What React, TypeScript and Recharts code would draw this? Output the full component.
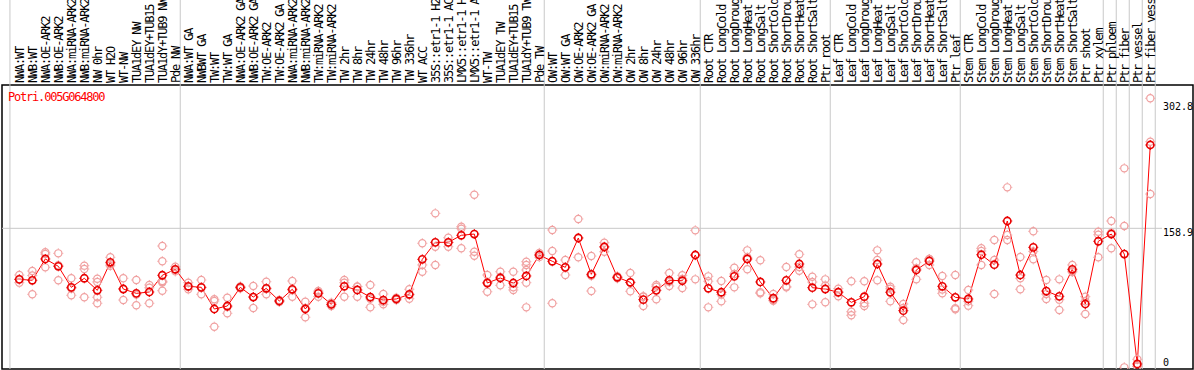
import { ComposedChart, Line, Scatter, XAxis, YAxis, ReferenceLine, ReferenceArea } from "recharts"

const geneId = "Potri.005G064800"

const labels = [
  "NWA:WT", "NWB:WT", "NWA:OE-ARK2", "NWB:OE-ARK2", "NWA:miRNA-ARK2", "NWB:miRNA-ARK2", "NW 0hr", "WT H2O", "WT-NW",
  "TUA1dEY NW", "TUA1dEY+TUB15 NW", "TUA1dY+TUB9 NW", "Pde NW",
  "NWA:WT GA", "NWBWT GA", "TW:WT", "TW:WT GA", "NWA:OE-ARK2 GA", "NWB:OE-ARK2 GA", "TW:OE-ARK2", "TW:OE-ARK2 GA",
  "NWA:miRNA-ARK2 GA", "NWB:miRNA-ARK2 GA", "TW:miRNA-ARK2", "TW:miRNA-ARK2 GA", "TW 2hr", "TW 8hr", "TW 24hr",
  "TW 48hr", "TW 96hr", "TW 336hr", "WT ACC", "35S::etr1-1 H2O", "35S::etr1-1 ACC", "LMX5::etr1-1 H2O",
  "LMX5::etr1-1 ACC", "WT-TW", "TUA1dEY TW", "TUA1dEY+TUB15 TW", "TUA1dY+TUB9 TW", "Pde TW",
  "OW:WT", "OW:WT GA", "OW:OE-ARK2", "OW:OE-ARK2 GA", "OW:miRNA-ARK2", "OW:miRNA-ARK2 GA", "OW 2hr", "OW 8hr",
  "OW 24hr", "OW 48hr", "OW 96hr", "OW 336hr",
  "Root CTR", "Root LongCold", "Root LongDrought", "Root LongHeat", "Root LongSalt", "Root ShortCold",
  "Root ShortDrought", "Root ShortHeat", "Root ShortSalt", "Ptr root",
  "Leaf CTR", "Leaf LongCold", "Leaf LongDrought", "Leaf LongHeat", "Leaf LongSalt", "Leaf ShortCold",
  "Leaf ShortDrought", "Leaf ShortHeat", "Leaf ShortSalt", "Ptr leaf",
  "Stem CTR", "Stem LongCold", "Stem LongDrought", "Stem LongHeat", "Stem LongSalt", "Stem ShortCold",
  "Stem ShortDrought", "Stem ShortHeat", "Stem ShortSalt", "Ptr shoot", "Ptr xylem",
  "Ptr phloem", "Ptr fiber", "Ptr vessel", "Ptr fiber vessel",
]

// mean expression per sample
const means = [
  101.0, 99.9, 124.1, 115.8, 91.9, 102.2, 88.5, 120.3, 90.0, 85.1, 86.6, 105.6, 112.4,
  93.1, 91.9, 67.3, 70.7, 91.9, 80.9, 90.8, 76.4, 89.7, 67.3, 85.1, 72.6, 93.1, 88.9, 80.9, 77.5, 78.7, 84.0,
  123.7, 143.0, 143.0, 151.0, 152.4, 96.8, 102.5, 96.8, 104.8, 128.6,
  121.5, 114.6, 147.9, 106.7, 137.7, 103.3, 97.6, 77.9, 88.5, 99.9, 99.4, 128.6,
  90.8, 86.3, 104.4, 124.1, 98.0, 79.5, 99.9, 118.4, 91.5, 90.0,
  86.3, 74.9, 81.3, 118.4, 86.3, 65.4, 111.6, 121.8, 93.1, 80.6,
  78.7, 128.9, 117.6, 167.2, 105.9, 137.3, 87.7, 81.7, 112.4, 73.0, 144.2,
  152.4, 129.7, 4.9, 253.5,
]

// individual replicates per sample
const replicates = [
  [105.9, 101.0, 97.2], [110.4, 105.3, 84.0], [131.7, 129.7, 114.6], [130.5, 117.0, 99.9], [102.2, 90.6, 82.9],
  [116.5, 112.7, 80.6], [101.7, 98.0, 80.6, 73.8], [126.0, 118.5, 116.4], [102.2, 90.3, 77.5], [100.2, 83.6, 71.5],
  [94.6, 91.4, 73.8], [138.8, 121.5, 99.0, 98.3, 97.5, 88.1], [115.3, 112.0, 110.0],
  [97.2, 92.4, 89.7], [100.2, 91.5, 84.0], [78.3, 76.4, 47.2], [80.1, 69.6, 62.4], [93.0, 92.0, 90.7],
  [93.4, 80.9, 68.4], [98.3, 90.1, 84.0], [77.5, 76.4, 75.3], [99.1, 88.7, 81.3], [75.6, 68.4, 57.9],
  [87.7, 86.3, 81.3], [74.5, 72.6, 70.7], [100.2, 97.2, 81.3], [92.8, 92.6, 81.3], [94.6, 78.9, 69.2],
  [84.3, 75.6, 72.6], [80.0, 78.7, 77.4], [89.7, 83.3, 79.0], [141.9, 117.3, 109.6], [175.9, 138.0, 117.3],
  [148.2, 142.8, 138.0], [160.7, 158.5, 136.2], [197.0, 132.3, 127.8], [105.9, 97.6, 86.9], [109.6, 103.7, 94.2],
  [109.6, 91.9, 88.9], [121.0, 117.3, 111.6, 97.2, 69.2], [131.0, 128.6, 126.2],
  [157.0, 133.1, 73.8], [122.9, 115.0, 105.9], [169.5, 148.2, 126.0], [127.4, 105.0, 87.7], [142.6, 138.2, 132.3],
  [104.5, 103.3, 102.1], [108.2, 97.2, 87.4], [81.7, 81.3, 70.7], [94.6, 92.6, 78.3], [108.2, 98.1, 93.4],
  [105.6, 101.5, 91.1], [156.6, 128.2, 101.0],
  [104.4, 98.8, 69.2], [99.1, 83.8, 76.0], [114.2, 107.1, 91.9], [133.9, 126.0, 112.4], [122.6, 86.3, 85.1],
  [84.3, 77.5, 76.7], [115.0, 92.8, 91.9], [129.4, 115.0, 110.8], [104.0, 97.9, 72.6], [101.0, 94.1, 74.9],
  [90.4, 86.8, 81.7], [98.8, 64.2, 60.2], [98.8, 73.8, 70.7], [133.9, 122.9, 99.9], [92.6, 90.3, 76.0],
  [73.0, 68.4, 54.8], [120.3, 113.5, 101.0], [124.1, 124.0, 117.3], [104.8, 89.4, 85.1], [105.9, 68.1, 67.0],
  [88.9, 76.1, 71.1], [136.2, 133.2, 117.3], [145.6, 122.9, 84.3], [205.4, 151.3, 145.6], [126.3, 102.2, 89.7],
  [155.5, 132.7, 123.7], [100.2, 84.2, 78.7], [101.0, 77.9, 66.2], [117.3, 110.5, 109.4], [81.3, 76.1, 61.6],
  [155.0, 151.6, 126.0],
  [167.2, 153.8, 136.2], [227.0, 161.5, 1.1], [10.2, 2.3, 2.2], [306.5, 257.2, 197.8],
]

// vertical separators between sample groups (in sample-index units)
const groupBreaks = [-0.72, 12.38, 40.38, 52.38, 62.38, 72.38, 83.38, 84.38, 85.38, 86.38, 87.38]
const yTicks = [0, 158.9, 302.8]

const data = labels.map((label, i) => ({ i, label, mean: means[i] }))
const repPoints = replicates.flatMap((vals, i) => vals.map((v) => ({ i, v })))

const W = 1194
const H = 370
const xDomain = [-1.331, 90.285]
const yDomain = [-0.8, 321.6]
const mono = "'DejaVu Sans Mono', monospace"

function Ring({ cx, cy, color, width }: any) {
  if (cx == null || cy == null || isNaN(cx) || isNaN(cy)) return null
  return (
    <g stroke={color} fill="none">
      <circle cx={cx} cy={cy} r={3.6} strokeWidth={width} />
      <path
        d={`M${cx - 5},${cy}h1M${cx + 4},${cy}h1M${cx},${cy - 5}v1M${cx},${cy + 4}v1`}
        strokeWidth={1}
      />
    </g>
  )
}

function SampleTick({ x, payload }: any) {
  return (
    <text
      x={x}
      y={83}
      transform={`rotate(-90, ${x}, 83)`}
      dy="0.36em"
      fontFamily={mono}
      fontSize={12}
      letterSpacing={-1.2}
      fill="#000"
    >
      {labels[payload.value]}
    </text>
  )
}

// value labels sit with their top on the value line, kept inside the frame
function valueLabelBaseline(y: number) {
  return Math.min(y + 8, 366)
}

export default function App() {
  return (
    <div style={{ position: "absolute", left: 0, top: 0, width: W, height: H, background: "#fff" }}>
      <ComposedChart width={W} height={H} data={data} margin={{ top: 0, right: 1, bottom: 1, left: 2 }}>
        <XAxis
          dataKey="i"
          type="number"
          orientation="top"
          height={85}
          domain={xDomain}
          allowDataOverflow
          ticks={labels.map((_, i) => i)}
          interval={0}
          tick={<SampleTick />}
          axisLine={false}
          tickLine={false}
        />
        <YAxis hide domain={yDomain} allowDataOverflow ticks={yTicks} />
        {groupBreaks.map((b) => (
          <ReferenceLine
            key={b}
            segment={[{ x: b, y: yDomain[0] }, { x: b, y: 420 }]}
            stroke="#c8c8c8"
            strokeWidth={1}
            ifOverflow="visible"
          />
        ))}
        <ReferenceLine
          segment={[{ x: xDomain[0], y: 158.9 }, { x: 87.9, y: 158.9 }]}
          stroke="#c8c8c8"
          strokeWidth={1}
          ifOverflow="visible"
        />
        {yTicks.map((t) => (
          <ReferenceLine
            key={"lab" + t}
            segment={[{ x: 87.98, y: t }, { x: 90.2, y: t }]}
            stroke="none"
            ifOverflow="visible"
            label={(props: any) => {
              const vb = props.viewBox || {}
              return (
                <text x={vb.x} y={valueLabelBaseline(vb.y)} fontFamily={mono} fontSize={10} fill="#000">
                  {t}
                </text>
              )
            }}
          />
        ))}
        <ReferenceArea
          x1={xDomain[0]}
          x2={xDomain[1]}
          y1={yDomain[0]}
          y2={yDomain[1]}
          fill="none"
          fillOpacity={0}
          stroke="#000"
          strokeWidth={1.5}
        />
        <Scatter
          data={repPoints}
          dataKey="v"
          isAnimationActive={false}
          shape={(p: any) => <Ring cx={p.cx} cy={p.cy} color="#f0a0a0" width={1.2} />}
        />
        <Line
          dataKey="mean"
          type="linear"
          stroke="#ff0000"
          strokeWidth={1}
          isAnimationActive={false}
          dot={(p: any) => <Ring key={p.index} cx={p.cx} cy={p.cy} color="#e80000" width={1.6} />}
          activeDot={false}
        />
      </ComposedChart>
      <div
        style={{
          position: "absolute",
          left: 8,
          top: 91,
          fontFamily: mono,
          fontSize: 12,
          letterSpacing: -1.2,
          lineHeight: "12px",
          color: "#ff0000",
        }}
      >
        {geneId}
      </div>
    </div>
  )
}
